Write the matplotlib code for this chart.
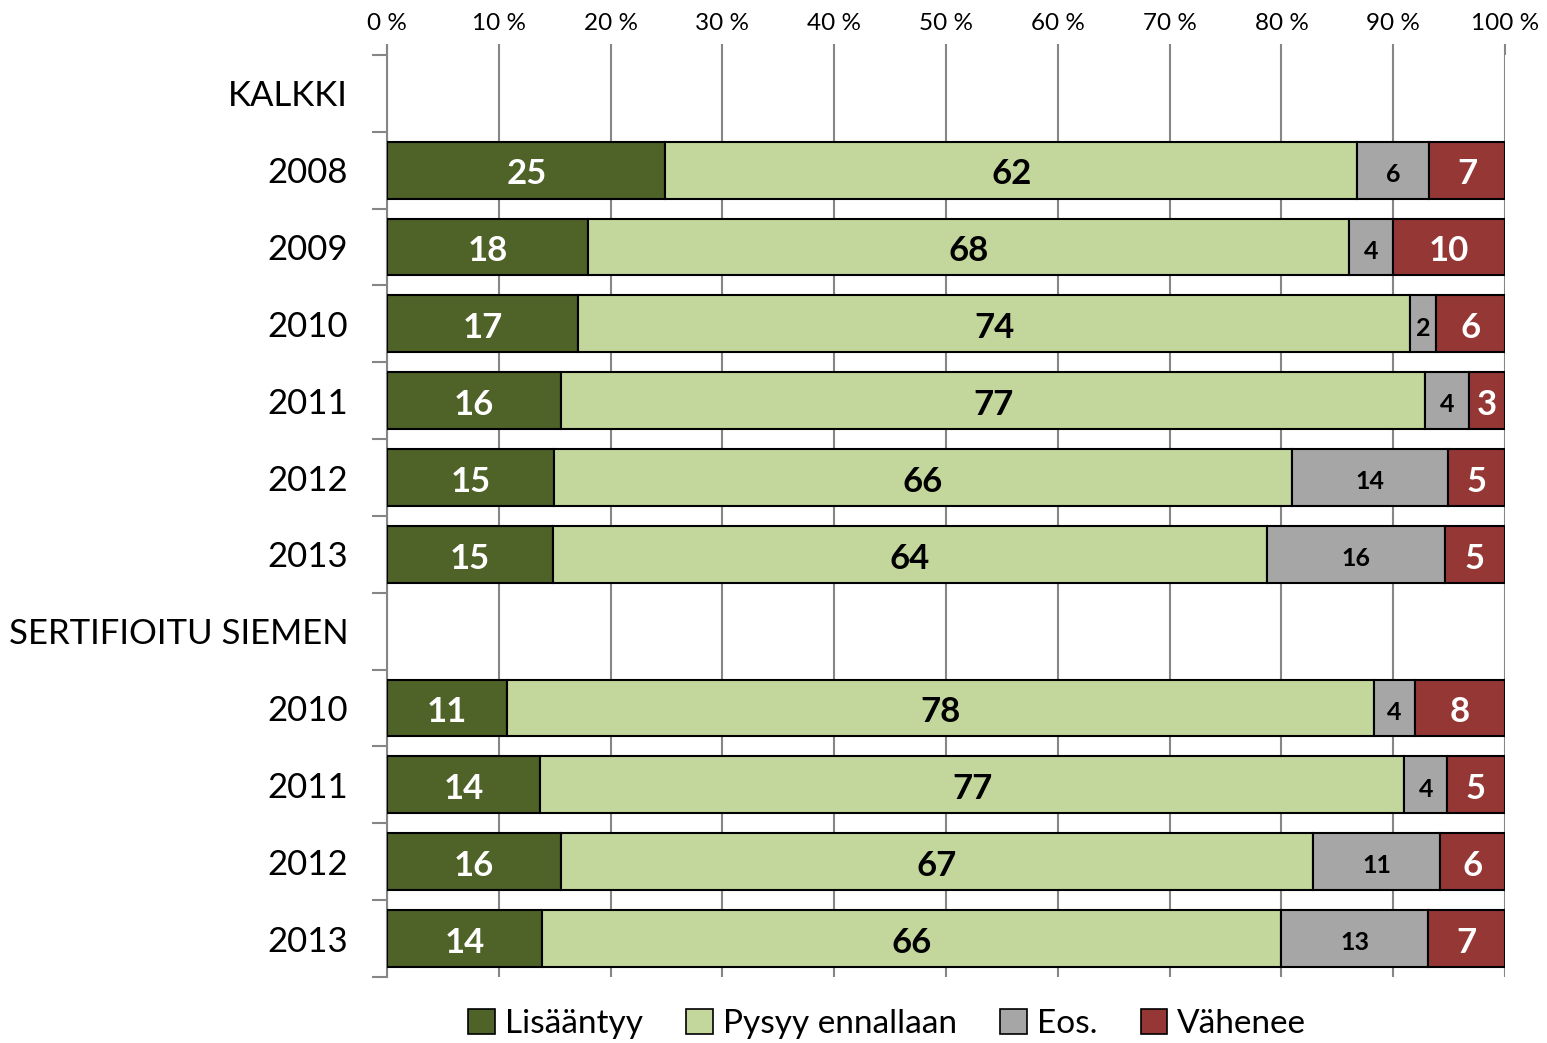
import matplotlib.pyplot as plt
import numpy as np
from matplotlib.patches import Patch

plt.rcParams['font.family'] = ['Lato', 'DejaVu Sans']

# row labels, top to bottom (group headers have no bar)
rows = ['KALKKI', '2008', '2009', '2010', '2011', '2012', '2013',
        'SERTIFIOITU SIEMEN', '2010', '2011', '2012', '2013']

# KALKKI (all), %
kalkki_lisaantyy = [24.9, 18.0, 17.1, 15.6, 14.9, 14.8]
kalkki_pysyy = [61.9, 68.0, 74.4, 77.2, 66.0, 63.9]
kalkki_eos = [6.4, 4.0, 2.3, 4.0, 14.0, 15.9]
kalkki_vahenee = [6.8, 10.0, 6.2, 3.2, 5.1, 5.4]

# SERTIFIOITU SIEMEN (certified seed), %
sert_lisaantyy = [10.7, 13.7, 15.6, 13.9]
sert_pysyy = [77.6, 77.3, 67.2, 66.1]
sert_eos = [3.6, 3.8, 11.4, 13.1]
sert_vahenee = [8.1, 5.2, 5.8, 6.9]

series_names = ['Lisääntyy', 'Pysyy ennallaan', 'Eos.', 'Vähenee']
colors = ['#4F6228', '#C3D69B', '#A6A6A6', '#953735']
text_colors = ['white', 'black', 'black', 'white']
text_sizes = [25, 25, 18, 25]

kalkki_pos = np.arange(1, 7)
sert_pos = np.arange(8, 12)
pos = np.concatenate([kalkki_pos, sert_pos])
series = [
    np.array(kalkki_lisaantyy + sert_lisaantyy),
    np.array(kalkki_pysyy + sert_pysyy),
    np.array(kalkki_eos + sert_eos),
    np.array(kalkki_vahenee + sert_vahenee),
]

fig = plt.figure(figsize=(15.47, 10.43), dpi=100)
ax = fig.add_axes([0.2502, 0.0633, 0.7227, 0.884])

grid_col = '#868686'
left = np.zeros(len(pos))
for vals, col, tcol, tsize in zip(series, colors, text_colors, text_sizes):
    bars = ax.barh(pos, vals, left=left, height=0.74, color=col,
                   edgecolor='black', linewidth=1.5, zorder=3)
    labels = ['%.0f' % v for v in vals]
    anns = ax.bar_label(bars, labels=labels, label_type='center', color=tcol,
                        fontsize=tsize, fontweight='bold')
    for a in anns:
        a.xyann = (0, -3)  # nudge down a bit, like the original
    left = left + vals

ax.set_xlim(0, 100)
ax.set_ylim(len(rows) - 0.5, -0.5)

ax.xaxis.tick_top()
ax.set_xticks(np.arange(0, 101, 10))
ax.set_xticklabels(['%d %%' % t for t in range(0, 101, 10)], fontsize=17.5)
ax.tick_params(axis='x', which='major', direction='out', length=8,
               width=1.5, color=grid_col, pad=7)
ax.grid(axis='x', color=grid_col, linewidth=1.5, zorder=0)

ax.set_yticks(np.arange(len(rows)))
ax.set_yticklabels(rows, fontsize=25)
ax.tick_params(axis='y', which='major', length=0, pad=28)
ax.set_yticks(np.arange(len(rows) + 1) - 0.5, minor=True)
ax.tick_params(axis='y', which='minor', direction='out', length=11,
               width=1.5, color=grid_col)

for s in ['top', 'right', 'bottom']:
    ax.spines[s].set_visible(False)
ax.spines['left'].set_color(grid_col)
ax.spines['left'].set_linewidth(1.5)
ax.spines['left'].set_bounds(len(rows) - 0.5, -0.62)

handles = [Patch(facecolor=c, edgecolor='black', linewidth=1.2) for c in colors]
fig.legend(handles, series_names, loc='lower center', ncol=4, frameon=False,
           fontsize=24, handlelength=0.8, handleheight=0.8, handletextpad=0.3,
           columnspacing=1.3, bbox_to_anchor=(0.5735, -0.025))

fig.savefig('out.png', dpi=100)
